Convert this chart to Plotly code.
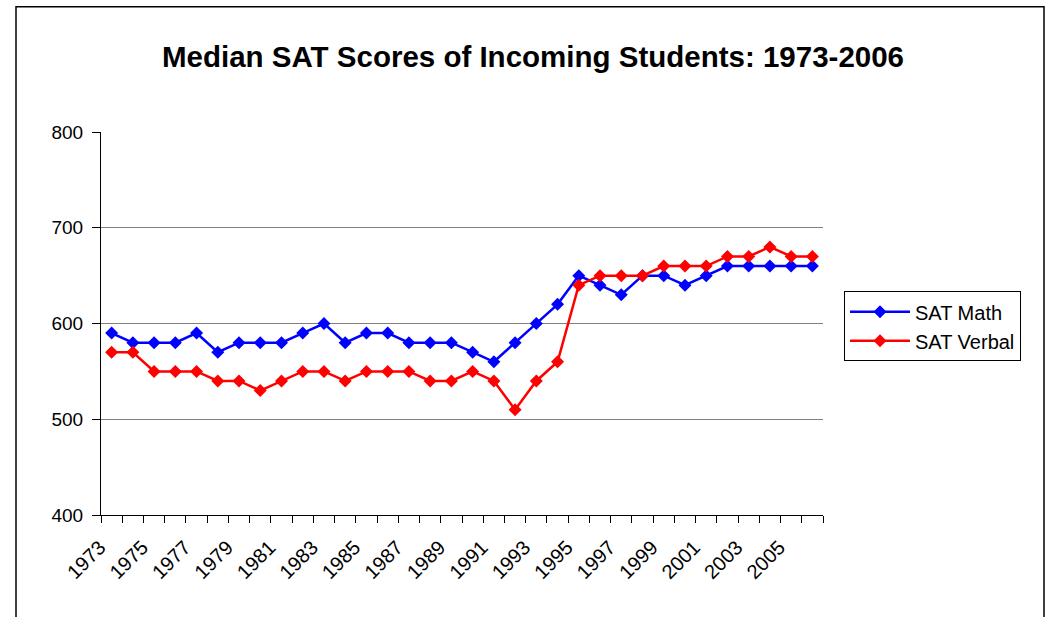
import plotly.graph_objects as go

years = [str(y) for y in range(1973, 2007)]
sat_math = [590, 580, 580, 580, 590, 570, 580, 580, 580, 590, 600, 580, 590, 590, 580, 580, 580,
            570, 560, 580, 600, 620, 650, 640, 630, 650, 650, 640, 650, 660, 660, 660, 660, 660]
sat_verbal = [570, 570, 550, 550, 550, 540, 540, 530, 540, 550, 550, 540, 550, 550, 550, 540, 540,
              550, 540, 510, 540, 560, 640, 650, 650, 650, 660, 660, 660, 670, 670, 680, 670, 670]
tick_text = [y + "\u00a0\u00a0\u00a0" if i % 2 == 0 else "" for i, y in enumerate(years)]

fig = go.Figure()
fig.add_trace(go.Scatter(x=years, y=sat_math, name="SAT Math", mode="lines+markers",
                         line=dict(color="#0000FF", width=2.5),
                         marker=dict(symbol="diamond", size=10, color="#0000FF")))
fig.add_trace(go.Scatter(x=years, y=sat_verbal, name="SAT Verbal", mode="lines+markers",
                         line=dict(color="#FF0000", width=2.5),
                         marker=dict(symbol="diamond", size=10, color="#FF0000")))

W, H = 1046, 617
L, R, T, B = 101, 223, 131.5, 102
pw, ph = W - L - R, H - T - B

def px_to_paper_x(px):
    return (px - L) / pw

def px_to_paper_y(py):
    return (H - B - py) / ph

fig.update_layout(
    width=W, height=H,
    margin=dict(l=L, r=R, t=T, b=B, pad=0),
    paper_bgcolor="white", plot_bgcolor="white",
    font=dict(family="Arial, Liberation Sans, sans-serif", size=19, color="black"),
    title=dict(text="<b>Median SAT Scores of Incoming Students: 1973-2006</b>",
               x=533 / W, xanchor="center", y=1 - 57 / H, yanchor="middle",
               font=dict(size=29.5, color="black")),
    xaxis=dict(type="category", tickmode="array", tickvals=years, ticktext=tick_text,
               tickson="boundaries", ticks="outside", ticklen=7, tickcolor="black",
               showline=True, linecolor="black", linewidth=1, showgrid=False,
               tickangle=-45, tickfont=dict(size=20), ticklabelstandoff=0,
               range=[-0.5, len(years) - 0.5]),
    yaxis=dict(range=[400, 800], dtick=100, ticks="outside", ticklen=8, tickcolor="black",
               showline=True, linecolor="black", linewidth=1,
               showgrid=True, gridcolor="#808080", gridwidth=1, zeroline=False,
               tickfont=dict(size=19), ticklabelstandoff=5),
    legend=dict(x=px_to_paper_x(844), y=px_to_paper_y(291), xanchor="left", yanchor="top",
                bordercolor="black", borderwidth=1, bgcolor="white",
                font=dict(size=20), itemwidth=60),
    showlegend=True,
    shapes=[dict(type="rect", xref="paper", yref="paper",
                 x0=px_to_paper_x(16), x1=px_to_paper_x(1044),
                 y0=px_to_paper_y(660), y1=px_to_paper_y(6),
                 line=dict(color="black", width=1.5), fillcolor="rgba(0,0,0,0)", layer="below")],
)

fig.write_html("out.html", config={"displayModeBar": False},
               post_script="document.body.style.margin='0';")
